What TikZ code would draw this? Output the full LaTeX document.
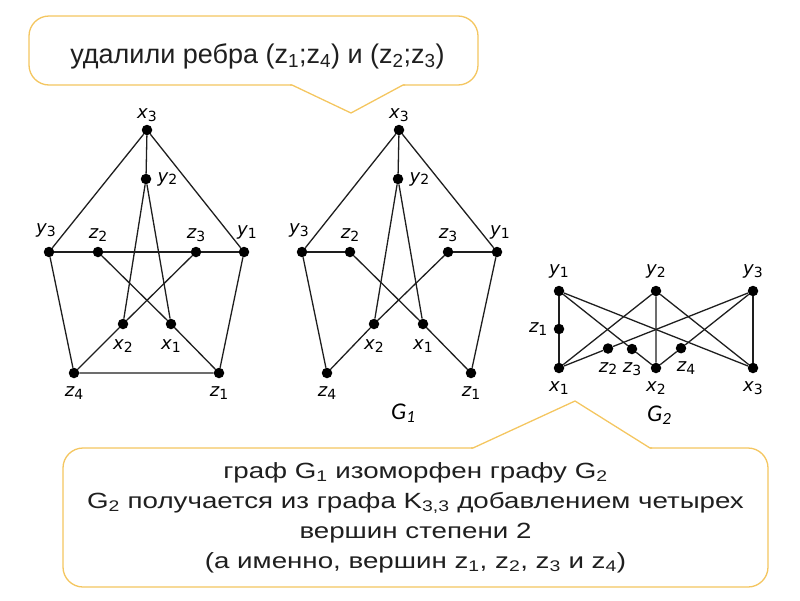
\documentclass[tikz,border=0pt]{standalone}
\usepackage{fontspec}
\setmainfont{Liberation Sans}
\newfontfamily\labfont{DejaVu Sans}
\newfontfamily\gfont{Carlito}
\newfontfamily\widefont{Liberation Sans}[FakeStretch=1.26]
\usepackage{xcolor}
\usetikzlibrary{positioning}

\definecolor{calloutline}{RGB}{244,198,96}
\definecolor{edgegray}{RGB}{30,30,30}

% vertex label: letter with lowered index
\newcommand{\vl}[2]{{\itshape #1}\raisebox{-2.5pt}{\fontsize{14}{14}\selectfont #2}}

\begin{document}
\begin{tikzpicture}[x=1pt, y=-1pt,
    dot/.style={circle, fill=black, inner sep=0pt, minimum size=10.5pt},
    every label/.style={inner sep=0pt, font=\labfont\fontsize{18}{18}\selectfont},
    edge/.style={draw=edgegray, line width=1.3pt},
    callout/.style={draw=calloutline, line width=1.3pt, fill=white, rounded corners=20pt, align=center, text=black!88},
    gname/.style={font=\gfont\itshape\fontsize{24}{24}\selectfont}
]
\useasboundingbox (0,0) rectangle (800,600);

% Graph with all edges
\node[dot, label={[label distance=3pt]above:\vl{x}{3}}] (ax3) at (147,130) {};
\node[dot, label={[label distance=6pt]right:\vl{y}{2}}] (ay2) at (146,179) {};
\node[dot, label={[label distance=9pt, xshift=-3pt]above:\vl{y}{3}}] (ay3) at (49,252) {};
\node[dot, label={[label distance=5pt]above:\vl{z}{2}}] (az2) at (98,252) {};
\node[dot, label={[label distance=5pt]above:\vl{z}{3}}] (az3) at (196,252) {};
\node[dot, label={[label distance=7pt, xshift=3pt]above:\vl{y}{1}}] (ay1) at (244,252) {};
\node[dot, label={[label distance=10pt]below:\vl{x}{2}}] (ax2) at (123,324) {};
\node[dot, label={[label distance=10pt]below:\vl{x}{1}}] (ax1) at (171,324) {};
\node[dot, label={[label distance=8pt]below:\vl{z}{4}}] (az4) at (74,373) {};
\node[dot, label={[label distance=8pt]below:\vl{z}{1}}] (az1) at (219,373) {};

\draw[edge] (ax3) -- (ay2) (ax3) -- (ay3) (ax3) -- (ay1);
\draw[edge] (ay3) -- (az2) -- (az3) -- (ay1);
\draw[edge] (ay3) -- (az4) -- (az1) -- (ay1);
\draw[edge] (ay2) -- (ax2) (ay2) -- (ax1);
\draw[edge] (az2) -- (ax1) -- (az1);
\draw[edge] (az3) -- (ax2) -- (az4);

% G1: edges (z1;z4) and (z2;z3) removed
\node[dot, label={[label distance=3pt]above:\vl{x}{3}}] (bx3) at (399,130) {};
\node[dot, label={[label distance=6pt]right:\vl{y}{2}}] (by2) at (398,179) {};
\node[dot, label={[label distance=9pt, xshift=-3pt]above:\vl{y}{3}}] (by3) at (302,252) {};
\node[dot, label={[label distance=5pt]above:\vl{z}{2}}] (bz2) at (350,252) {};
\node[dot, label={[label distance=5pt]above:\vl{z}{3}}] (bz3) at (448,252) {};
\node[dot, label={[label distance=7pt, xshift=3pt]above:\vl{y}{1}}] (by1) at (497,252) {};
\node[dot, label={[label distance=10pt]below:\vl{x}{2}}] (bx2) at (374,324) {};
\node[dot, label={[label distance=10pt]below:\vl{x}{1}}] (bx1) at (423,324) {};
\node[dot, label={[label distance=8pt]below:\vl{z}{4}}] (bz4) at (327,373) {};
\node[dot, label={[label distance=8pt]below:\vl{z}{1}}] (bz1) at (471,373) {};
\node[gname] (g1) at (403,413) {G\raisebox{-3pt}{\fontsize{17}{17}\selectfont 1}};

\draw[edge] (bx3) -- (by2) (bx3) -- (by3) (bx3) -- (by1);
\draw[edge] (by3) -- (bz2) (bz3) -- (by1);
\draw[edge] (by3) -- (bz4) (by1) -- (bz1);
\draw[edge] (by2) -- (bx2) (by2) -- (bx1);
\draw[edge] (bz2) -- (bx1) -- (bz1);
\draw[edge] (bz3) -- (bx2) -- (bz4);

% G2: K3,3 with four vertices of degree 2
\node[dot, label={[label distance=7pt]above:\vl{y}{1}}] (cy1) at (559,291) {};
\node[dot, label={[label distance=7pt]above:\vl{y}{2}}] (cy2) at (656,291) {};
\node[dot, label={[label distance=7pt]above:\vl{y}{3}}] (cy3) at (753,291) {};
\node[dot, label={[label distance=6pt]left:\vl{z}{1}}] (cz1) at (559,329) {};
\node[dot, label={[label distance=8pt]below:\vl{z}{2}}] (cz2) at (608,348.5) {};
\node[dot, label={[label distance=8pt]below:\vl{z}{3}}] (cz3) at (632,349) {};
\node[dot, label={[label distance=8pt, xshift=5pt]below:\vl{z}{4}}] (cz4) at (681,348.2) {};
\node[dot, label={[label distance=8pt]below:\vl{x}{1}}] (cx1) at (559,368) {};
\node[dot, label={[label distance=8pt]below:\vl{x}{2}}] (cx2) at (656,368) {};
\node[dot, label={[label distance=8pt]below:\vl{x}{3}}] (cx3) at (753,368) {};
\node[gname] (g2) at (659,415) {G\raisebox{-3pt}{\fontsize{17}{17}\selectfont 2}};

\draw[edge] (cy1) -- (cz1) -- (cx1);
\draw[edge] (cy1) -- (cz3) -- (cx2);
\draw[edge] (cy1) -- (cx3);
\draw[edge] (cy2) -- (cx1) (cy2) -- (cx2) (cy2) -- (cx3);
\draw[edge] (cy3) -- (cz2) -- (cx1);
\draw[edge] (cy3) -- (cz4) -- (cx2);
\draw[edge] (cy3) -- (cx3);

% Callouts
\node[callout, anchor=base, text height=40pt, text depth=15pt, inner sep=7pt, minimum width=449pt,
    font=\fontsize{27}{30}\selectfont] (removed) at (253.5,63)
    {\hspace*{8pt}удалили ребра (z\textsubscript{1};z\textsubscript{4}) и (z\textsubscript{2};z\textsubscript{3})};
\fill[white] (292,83) rectangle (403,87);
\draw[calloutline, line width=1.3pt, line join=round] (290,85) -- (292,85) -- (351,113) -- (403,85) -- (405,85);

\node[callout, minimum width=705pt, minimum height=139pt,
    font=\widefont\fontsize{22}{30}\selectfont] (isomorph) at (415.5,517.5)
    {граф G\textsubscript{1} изоморфен графу G\textsubscript{2}\\
     G\textsubscript{2} получается из графа K\textsubscript{3,3} добавлением четырех\\
     вершин степени 2\\
     (а именно, вершин z\textsubscript{1}, z\textsubscript{2}, z\textsubscript{3} и z\textsubscript{4})};
\fill[white] (473,446) rectangle (650,450);
\draw[calloutline, line width=1.3pt, line join=round] (471,448) -- (473,448) -- (575,401) -- (650,448) -- (652,448);

\end{tikzpicture}
\end{document}
